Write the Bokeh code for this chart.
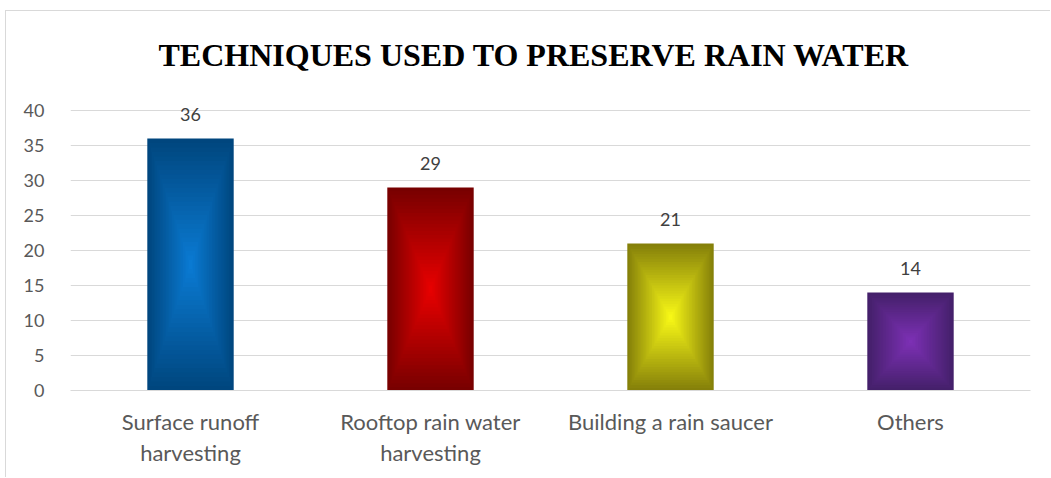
from bokeh.plotting import figure
from bokeh.models import ColumnDataSource, FixedTicker, Range1d, Title
from bokeh.core.properties import value
from bokeh.embed import file_html
from bokeh.resources import INLINE

categories = ["Surface runoff\nharvesting", "Rooftop rain water\nharvesting",
              "Building a rain saucer", "Others"]
values = [36, 29, 21, 14]
y_ticks = [0, 5, 10, 15, 20, 25, 30, 35, 40]
edge_colors = ["#00467e", "#780000", "#85800a", "#44206a"]
center_colors = ["#0a7ad2", "#e60000", "#f7f716", "#7c30b4"]

BAR_W = 0.36
STEPS = 28

def hex2rgb(h):
    h = h.lstrip("#")
    return tuple(int(h[i:i + 2], 16) for i in (0, 2, 4))

def lerp(c1, c2, t):
    a, b = hex2rgb(c1), hex2rgb(c2)
    return "#%02x%02x%02x" % tuple(round(a[i] + (b[i] - a[i]) * t) for i in range(3))

xs, ys, ws, hs, cs = [], [], [], [], []
for cat, v, ec, cc in zip(categories, values, edge_colors, center_colors):
    for k in range(STEPS):
        s = 1 - k / STEPS
        t = k / (STEPS - 1)
        xs.append(cat)
        ys.append(v / 2)
        ws.append(BAR_W * s)
        hs.append(v * s)
        cs.append(lerp(ec, cc, t))
src = ColumnDataSource(dict(x=xs, y=ys, w=ws, h=hs, c=cs))
lbl = ColumnDataSource(dict(x=categories, y=values, t=[str(v) for v in values]))

p = figure(x_range=categories, y_range=Range1d(0, 42), width=1045, height=467,
           output_backend="svg", toolbar_location=None,
           min_border_left=64, min_border_right=21, min_border_top=60, min_border_bottom=88)
p.margin = (10, 0, 0, 5)
p.styles = {"border-top": "1px solid #d9d9d9", "border-left": "1px solid #d9d9d9"}

title = Title(text="TECHNIQUES USED TO PRESERVE RAIN WATER", align="left",
              text_font="Liberation Serif", text_font_style="bold",
              text_font_size="32px", text_color="#000000", standoff=47, offset=88)
p.add_layout(title, "above")

p.rect(x="x", y="y", width="w", height="h", fill_color="c", line_color=None, source=src)
p.text(x="x", y="y", text="t", source=lbl, text_align="center", text_baseline="alphabetic",
       y_offset=-24, text_font=value("Lato"), text_font_size="18px", text_color="#404040")

p.outline_line_color = None
p.background_fill_color = "#ffffff"
p.xgrid.grid_line_color = None
p.ygrid.grid_line_color = "#d9d9d9"
p.ygrid.grid_line_width = 1

p.yaxis.ticker = FixedTicker(ticks=y_ticks)
p.yaxis.axis_line_color = None
p.yaxis.major_tick_line_color = None
p.yaxis.minor_tick_line_color = None
p.yaxis.major_label_standoff = 20
p.yaxis.major_label_text_font = "Lato"
p.yaxis.major_label_text_font_size = "18px"
p.yaxis.major_label_text_color = "#595959"

p.xaxis.axis_line_color = "#d9d9d9"
p.xaxis.major_tick_line_color = None
p.xaxis.minor_tick_line_color = None
p.xaxis.major_label_standoff = 11
p.xaxis.major_label_text_font = "Lato"
p.xaxis.major_label_text_font_size = "22px"
p.xaxis.major_label_text_color = "#595959"
p.xaxis.major_label_text_line_height = 1.15

open("out.html", "w").write(file_html(p, INLINE))
